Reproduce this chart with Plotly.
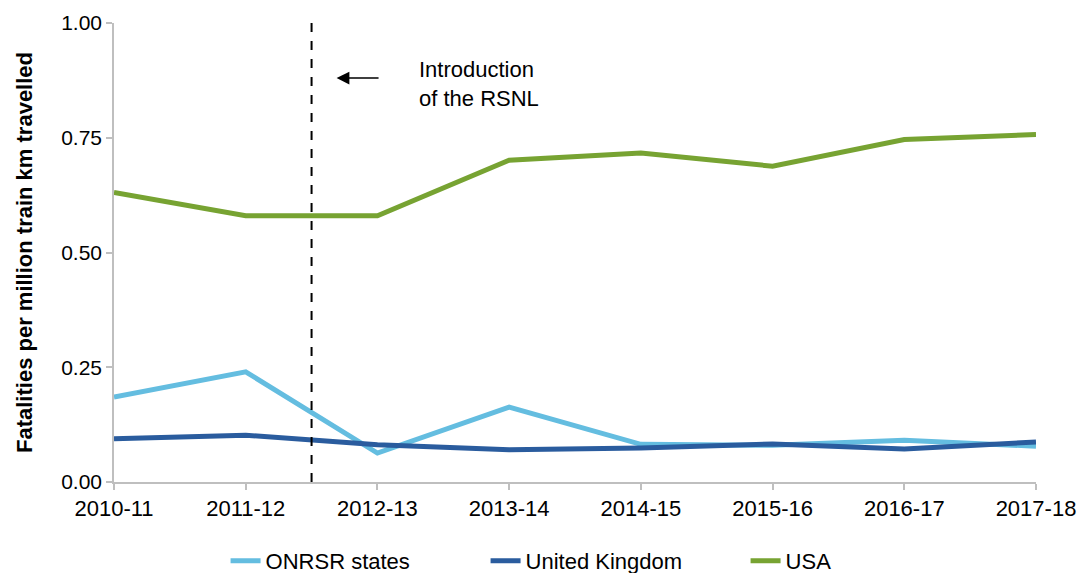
import plotly.graph_objects as go

years = ["2010-11", "2011-12", "2012-13", "2013-14", "2014-15", "2015-16", "2016-17", "2017-18"]
onrsr = [0.185, 0.240, 0.063, 0.163, 0.082, 0.080, 0.091, 0.078]
uk = [0.094, 0.102, 0.081, 0.070, 0.074, 0.083, 0.072, 0.087]
usa = [0.631, 0.580, 0.580, 0.701, 0.717, 0.688, 0.746, 0.757]
y_ticks = [0, 0.25, 0.5, 0.75, 1.0]

FONT = "Liberation Sans, Arial, sans-serif"
AXIS_GREY = "#bfbfbf"

fig = go.Figure()
fig.add_trace(go.Scatter(x=years, y=onrsr, mode="lines", name="ONRSR states",
                         line=dict(color="#64BDE0", width=5)))
fig.add_trace(go.Scatter(x=years, y=uk, mode="lines", name="United Kingdom",
                         line=dict(color="#2A5C9E", width=5)))
fig.add_trace(go.Scatter(x=years, y=usa, mode="lines", name="USA",
                         line=dict(color="#77A332", width=5)))

# Vertical dashed marker between 2011-12 and 2012-13
fig.add_shape(type="line", xref="x", yref="y", x0=1.5, x1=1.5, y0=0, y1=1,
              line=dict(color="black", width=2, dash="dash"))

# Arrow
fig.add_annotation(x=1.69, y=0.88, ax=2.02, ay=0.88, xref="x", yref="y",
                   axref="x", ayref="y", text="", showarrow=True,
                   arrowhead=2, arrowsize=1.7, arrowwidth=1.5, arrowcolor="black")
# Annotation text
fig.add_annotation(x=2.3, y=0.867, xref="x", yref="y", xanchor="left", yanchor="middle",
                   text="Introduction<br>of the RSNL", showarrow=False, align="left",
                   font=dict(family=FONT, size=22, color="black"))

fig.update_layout(
    width=1085, height=600,
    margin=dict(l=106, r=57, t=15, b=126),
    paper_bgcolor="white", plot_bgcolor="white",
    font=dict(family=FONT, size=21, color="black"),
    showlegend=True,
    legend=dict(orientation="h", x=0.544, xanchor="center", y=-0.172, yanchor="middle",
                font=dict(family=FONT, size=22), tracegroupgap=0,
                entrywidth=215, entrywidthmode="pixels"),
)
fig.update_xaxes(type="category", range=[0, 7], showgrid=False, showline=True,
                 linecolor=AXIS_GREY, linewidth=1.5, ticks="outside", ticklen=6,
                 tickcolor=AXIS_GREY, tickwidth=1.5, zeroline=False, automargin=False,
                 tickfont=dict(family=FONT, size=22))
fig.update_yaxes(range=[0, 1], tickvals=y_ticks, tickformat=".2f", showgrid=False,
                 showline=True, linecolor=AXIS_GREY, linewidth=1.5, ticks="outside",
                 ticklen=6, tickcolor=AXIS_GREY, tickwidth=1.5, zeroline=False,
                 automargin=False, tickfont=dict(family=FONT, size=21),
                 title=dict(text="<b>Fatalities per million train km travelled</b>",
                            font=dict(family=FONT, size=22), standoff=22))

fig.write_html("out.html")
